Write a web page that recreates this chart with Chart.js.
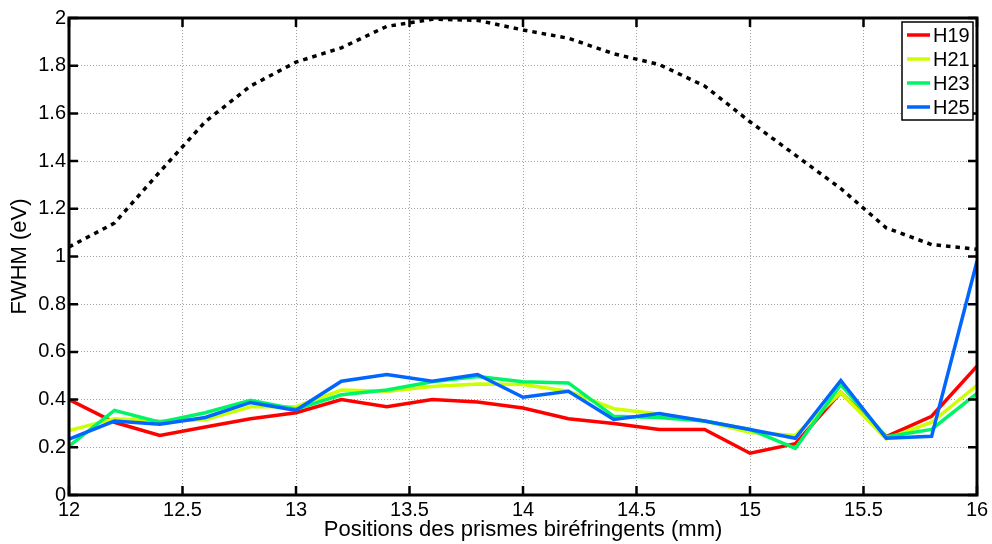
<!DOCTYPE html>
<html>
<head>
<meta charset="utf-8">
<script src="https://cdn.jsdelivr.net/npm/chart.js@4/dist/chart.umd.min.js"></script>
<style>
  html, body { margin: 0; padding: 0; background: #fff; }
  #wrap { width: 992px; height: 544px; }
</style>
</head>
<body>
<div id="wrap"><canvas id="c" width="992" height="544"></canvas></div>
<script>
// positions (mm) et FWHM (eV)
const positions = [12, 12.2, 12.4, 12.6, 12.8, 13, 13.2, 13.4, 13.6, 13.8, 14,
                   14.2, 14.4, 14.6, 14.8, 15, 15.2, 15.4, 15.6, 15.8, 16];
const h19 = [0.40, 0.305, 0.25, 0.285, 0.32, 0.345, 0.40, 0.37, 0.40, 0.39, 0.365,
             0.32, 0.30, 0.275, 0.275, 0.175, 0.215, 0.43, 0.245, 0.33, 0.54];
const h21 = [0.27, 0.32, 0.31, 0.315, 0.37, 0.37, 0.44, 0.435, 0.455, 0.465, 0.463,
             0.435, 0.362, 0.34, 0.31, 0.262, 0.25, 0.43, 0.235, 0.305, 0.46];
const h23 = [0.205, 0.355, 0.305, 0.345, 0.397, 0.36, 0.42, 0.44, 0.475, 0.497, 0.475,
             0.47, 0.33, 0.325, 0.31, 0.275, 0.196, 0.463, 0.244, 0.275, 0.426];
const h25 = [0.234, 0.31, 0.297, 0.325, 0.388, 0.355, 0.477, 0.505, 0.477, 0.505, 0.41,
             0.435, 0.317, 0.342, 0.31, 0.275, 0.238, 0.48, 0.238, 0.246, 0.98];
const spectre = [1.04, 1.14, 1.355, 1.565, 1.715, 1.815, 1.875, 1.965, 1.995, 1.99, 1.95,
                 1.915, 1.85, 1.805, 1.715, 1.565, 1.425, 1.285, 1.12, 1.05, 1.03];

const xTicks = [12, 12.5, 13, 13.5, 14, 14.5, 15, 15.5, 16];
const yTicks = [0, 0.2, 0.4, 0.6, 0.8, 1, 1.2, 1.4, 1.6, 1.8, 2];

const FONT = "'Liberation Sans', Arial, Helvetica, sans-serif";

const pts = arr => positions.map((x, i) => ({ x, y: arr[i] }));

const series = [
  { label: 'H19', data: h19, color: '#ff0000', order: 3 },
  { label: 'H21', data: h21, color: '#ccff00', order: 2 },
  { label: 'H23', data: h23, color: '#00f566', order: 1 },
  { label: 'H25', data: h25, color: '#0066ff', order: 0 },
];

// cadre + graduations vers l'intérieur (style MATLAB)
const framePlugin = {
  id: 'frame',
  afterDatasetsDraw(chart) {
    const { ctx, chartArea: a, scales: { x, y } } = chart;
    ctx.save();
    ctx.strokeStyle = '#000';
    ctx.lineWidth = 2.5;
    const tl = 9;
    ctx.beginPath();
    xTicks.forEach(v => {
      const px = x.getPixelForValue(v);
      ctx.moveTo(px, a.bottom); ctx.lineTo(px, a.bottom - tl);
      ctx.moveTo(px, a.top);    ctx.lineTo(px, a.top + tl);
    });
    yTicks.forEach(v => {
      const py = y.getPixelForValue(v);
      ctx.moveTo(a.left, py);  ctx.lineTo(a.left + tl, py);
      ctx.moveTo(a.right, py); ctx.lineTo(a.right - tl, py);
    });
    ctx.stroke();
    ctx.lineWidth = 3;
    ctx.strokeRect(a.left, a.top, a.right - a.left, a.bottom - a.top);
    ctx.restore();
  },
  afterDraw(chart) {
    // légende encadrée en haut à droite
    const { ctx, chartArea: a } = chart;
    const w = 71, h = 98;
    const bx = a.right - 4 - w, by = a.top + 4;
    ctx.save();
    ctx.fillStyle = '#fff';
    ctx.fillRect(bx, by, w, h);
    ctx.strokeStyle = '#000';
    ctx.lineWidth = 1.5;
    ctx.strokeRect(bx, by, w, h);
    ctx.font = '20px ' + FONT;
    ctx.textBaseline = 'middle';
    ctx.fillStyle = '#000';
    series.forEach((s, i) => {
      const cy = by + 13 + i * 24;
      ctx.strokeStyle = s.color;
      ctx.lineWidth = 3.5;
      ctx.beginPath();
      ctx.moveTo(bx + 5, cy); ctx.lineTo(bx + 28, cy);
      ctx.stroke();
      ctx.fillText(s.label, bx + 31, cy + 1);
    });
    ctx.restore();
  }
};

const datasets = series.map(s => ({
  label: s.label, data: pts(s.data), order: s.order,
  borderColor: s.color, backgroundColor: s.color,
  borderWidth: 3.5, pointRadius: 0, tension: 0,
}));
datasets.push({
  label: 'spectre', data: pts(spectre), order: 4,
  borderColor: '#000', borderWidth: 3.5, borderDash: [4.5, 5],
  pointRadius: 0, tension: 0,
});

new Chart(document.getElementById('c'), {
  type: 'line',
  data: { datasets },
  plugins: [framePlugin],
  options: {
    responsive: false,
    animation: false,
    layout: { padding: { top: 18, right: 15, left: 0, bottom: 0 } },
    plugins: { legend: { display: false }, tooltip: { enabled: false } },
    scales: {
      x: {
        type: 'linear', min: 12, max: 16,
        afterBuildTicks: s => { s.ticks = xTicks.map(v => ({ value: v })); },
        afterFit: s => { s.height = 49; },
        ticks: { color: '#000', font: { family: FONT, size: 20 }, padding: 3,
                 maxRotation: 0, autoSkip: false, callback: v => String(v) },
        grid: { color: '#a0a0a0', lineWidth: 1, drawTicks: false },
        border: { display: false, dash: [1, 2] },
        title: { display: true, text: 'Positions des prismes biréfringents (mm)',
                 color: '#000', font: { family: FONT, size: 22 }, padding: { top: 0, bottom: 1 } },
      },
      y: {
        type: 'linear', min: 0, max: 2,
        afterBuildTicks: s => { s.ticks = yTicks.map(v => ({ value: v })); },
        afterFit: s => { s.width = 69; },
        ticks: { color: '#000', font: { family: FONT, size: 20 }, padding: 3,
                 autoSkip: false, callback: v => String(+v.toFixed(1)) },
        grid: { color: '#a0a0a0', lineWidth: 1, drawTicks: false },
        border: { display: false, dash: [1, 2] },
        title: { display: true, text: 'FWHM (eV)', color: '#000',
                 font: { family: FONT, size: 22 }, padding: { top: 7, bottom: 0 } },
      },
    },
  },
});
</script>
</body>
</html>
